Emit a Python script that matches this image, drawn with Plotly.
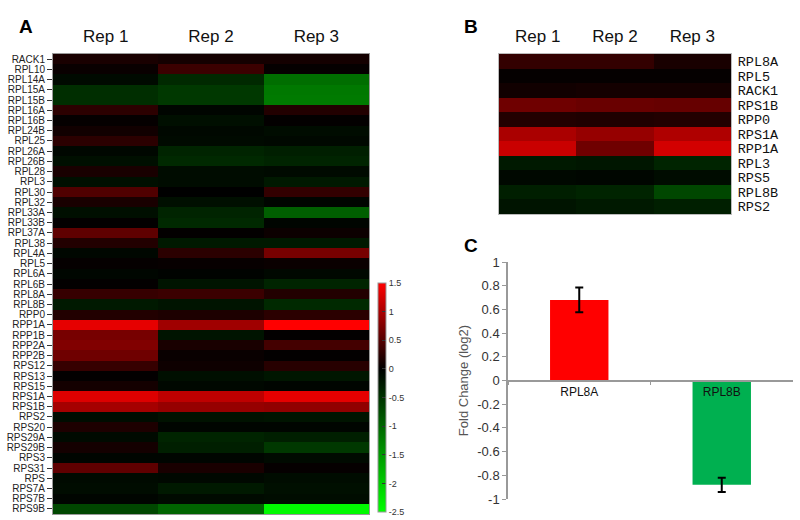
import plotly.graph_objects as go

reps = ["Rep 1", "Rep 2", "Rep 3"]

genes_a = ["RACK1", "RPL10", "RPL14A", "RPL15A", "RPL15B", "RPL16A", "RPL16B", "RPL24B", "RPL25",
           "RPL26A", "RPL26B", "RPL28", "RPL3", "RPL30", "RPL32", "RPL33A", "RPL33B", "RPL37A",
           "RPL38", "RPL4A", "RPL5", "RPL6A", "RPL6B", "RPL8A", "RPL8B", "RPP0", "RPP1A", "RPP1B",
           "RPP2A", "RPP2B", "RPS12", "RPS13", "RPS15", "RPS1A", "RPS1B", "RPS2", "RPS20", "RPS29A",
           "RPS29B", "RPS3", "RPS31", "RPS", "RPS7A", "RPS7B", "RPS9B"]
rep1_a = [0.15, 0.05, -0.10, -0.45, -0.45, 0.26, 0.03, 0.10, 0.25, -0.07, -0.15, 0.15, -0.15, 0.47,
          0.15, -0.15, 0.02, 0.56, 0.20, -0.07, 0.03, -0.06, 0.02, 0.32, -0.25, 0.20, 1.35, 0.70,
          0.76, 0.65, 0.32, 0.02, 0.12, 1.30, 0.97, -0.12, 0.17, -0.10, 0.12, -0.05, 0.56, -0.10,
          -0.12, -0.05, -0.70]
rep2_a = [0.12, 0.35, -0.40, -0.55, -0.55, -0.05, -0.15, -0.08, -0.10, -0.35, -0.40, -0.12, -0.12, 0.00,
          -0.15, -0.35, -0.40, 0.02, -0.25, 0.25, 0.04, -0.03, -0.20, 0.35, -0.20, 0.17, 0.94, -0.20,
          0.15, 0.05, 0.08, -0.15, -0.08, 1.12, 0.88, -0.18, -0.05, -0.35, -0.30, -0.05, 0.15, -0.08,
          -0.25, -0.10, -0.98]
rep3_a = [0.12, 0.03, -1.08, -1.18, -1.20, 0.20, 0.02, -0.12, -0.08, -0.30, -0.35, -0.10, -0.25, 0.30,
          -0.05, -0.93, -0.05, 0.07, -0.25, 0.70, 0.06, -0.08, -0.35, 0.20, -0.40, 0.25, 1.50, 0.02,
          0.40, 0.02, 0.23, -0.22, -0.05, 1.35, 0.85, -0.20, -0.05, -0.30, -0.55, -0.10, 0.03, -0.12,
          -0.15, -0.12, -2.45]

genes_b = ["RPL8A", "RPL5", "RACK1", "RPS1B", "RPP0", "RPS1A", "RPP1A", "RPL3", "RPS5", "RPL8B", "RPS2"]
rep1_b = [0.30, 0.03, 0.10, 0.65, 0.20, 1.00, 1.18, -0.25, -0.08, -0.30, -0.20]
rep2_b = [0.30, 0.03, 0.12, 0.62, 0.18, 0.88, 0.65, -0.22, -0.06, -0.35, -0.25]
rep3_b = [0.15, 0.03, 0.12, 0.60, 0.20, 1.03, 1.24, -0.35, -0.12, -0.70, -0.30]

bar_genes = ["RPL8A", "RPL8B"]
fold_change = [0.68, -0.88]
fold_err = [0.105, 0.06]
bar_colors = ["#FF0000", "#00B050"]

cb_ticks = [1.5, 1, 0.5, 0, -0.5, -1, -1.5, -2, -2.5]
fc_ticks = [1, 0.8, 0.6, 0.4, 0.2, 0, -0.2, -0.4, -0.6, -0.8, -1]

W, H = 800, 520
def px(x):
    return min(1.0, max(0.0, x / W))
def py(y):
    return min(1.0, max(0.0, 1 - y / H))

def fmt(v):
    return ("%g" % v)

za = [list(r) for r in zip(rep1_a, rep2_a, rep3_a)]
zb = [list(r) for r in zip(rep1_b, rep2_b, rep3_b)]

fig = go.Figure()
fig.add_trace(go.Heatmap(x=reps, y=genes_a, z=za, coloraxis="coloraxis", xaxis="x", yaxis="y"))
fig.add_trace(go.Heatmap(x=reps, y=genes_b, z=zb, coloraxis="coloraxis", xaxis="x2", yaxis="y2"))
fig.add_trace(go.Bar(x=bar_genes, y=fold_change, marker=dict(color=bar_colors, line=dict(width=0)),
                     error_y=dict(type="data", array=fold_err, color="black", thickness=2, width=4),
                     xaxis="x3", yaxis="y3", width=0.41))

cb_bottom = py(512)
fig.update_layout(
    width=W, height=H,
    margin=dict(l=0, r=0, t=0, b=0, autoexpand=False),
    paper_bgcolor="white", plot_bgcolor="white",
    showlegend=False,
    font=dict(family="Arial, Liberation Sans, sans-serif", color="#222"),
    coloraxis=dict(
        cmin=-2.5, cmax=1.5,
        colorscale=[[0, "rgb(0,255,0)"], [0.625, "rgb(0,0,0)"], [1, "rgb(255,0,0)"]],
        colorbar=dict(
            x=px(378), xanchor="left", y=cb_bottom, yanchor="bottom",
            len=py(283) - cb_bottom, lenmode="fraction", thickness=8, xpad=0, ypad=0,
            outlinecolor="#999", outlinewidth=1,
            tickvals=cb_ticks, ticktext=[fmt(v) for v in cb_ticks],
            ticks="inside", ticklen=4, tickcolor="#333",
            tickfont=dict(size=9, color="#333"),
        ),
    ),
    xaxis=dict(domain=[px(53), px(369)], side="top", showgrid=False, ticks="",
               tickfont=dict(size=17, color="#111"), ticklabelstandoff=4,
               showline=True, mirror=True, linecolor="#999", linewidth=1),
    yaxis=dict(domain=[py(514), py(54)], autorange="reversed", showgrid=False, dtick=1,
               ticks="outside", ticklen=5, tickcolor="#333", tickfont=dict(size=10, color="#222"),
               showline=True, mirror=True, linecolor="#999", linewidth=1),
    xaxis2=dict(domain=[px(499), px(731)], side="top", showgrid=False, ticks="", anchor="y2",
                tickfont=dict(size=17, color="#111"), ticklabelstandoff=4,
                showline=True, mirror=True, linecolor="#bbb", linewidth=1),
    yaxis2=dict(domain=[py(214), py(54)], autorange="reversed", side="right", showgrid=False, dtick=1,
                anchor="x2", ticks="",
                tickfont=dict(size=13.5, family="Liberation Mono, Courier New, monospace", color="#111"),
                ticklabelstandoff=3,
                showline=True, mirror=True, linecolor="#bbb", linewidth=1),
    xaxis3=dict(domain=[px(508), px(793)], anchor="free", position=py(380.5), showgrid=False,
                showline=True, linecolor="#999", linewidth=1.5, ticks="outside", ticklen=4,
                tickcolor="#999", tickson="boundaries", tickfont=dict(size=12, color="#111")),
    yaxis3=dict(domain=[py(499), py(262)], range=[-1, 1], anchor="x3", showgrid=False, zeroline=False,
                tickvals=fc_ticks, ticktext=[fmt(v) for v in fc_ticks],
                showline=True, linecolor="#999", linewidth=1.5,
                ticks="outside", ticklen=4, tickcolor="#999", tickfont=dict(size=13, color="#333"),
                title=dict(text="Fold Change (log2)", font=dict(size=13, color="#555"), standoff=6)),
    annotations=[
        dict(text="<b>A</b>", x=px(17), y=py(14), xref="paper", yref="paper", showarrow=False,
             font=dict(size=19, color="black")),
        dict(text="<b>B</b>", x=px(471), y=py(14), xref="paper", yref="paper", showarrow=False,
             font=dict(size=19, color="black")),
        dict(text="<b>C</b>", x=px(471), y=py(245), xref="paper", yref="paper", showarrow=False,
             font=dict(size=19, color="black")),
    ],
)

# remove the browser's default 8px body margin so the 800x520 figure fills the window exactly
fig.write_html("out.html", config={"displayModeBar": False},
               post_script="document.body.style.margin='0';")
